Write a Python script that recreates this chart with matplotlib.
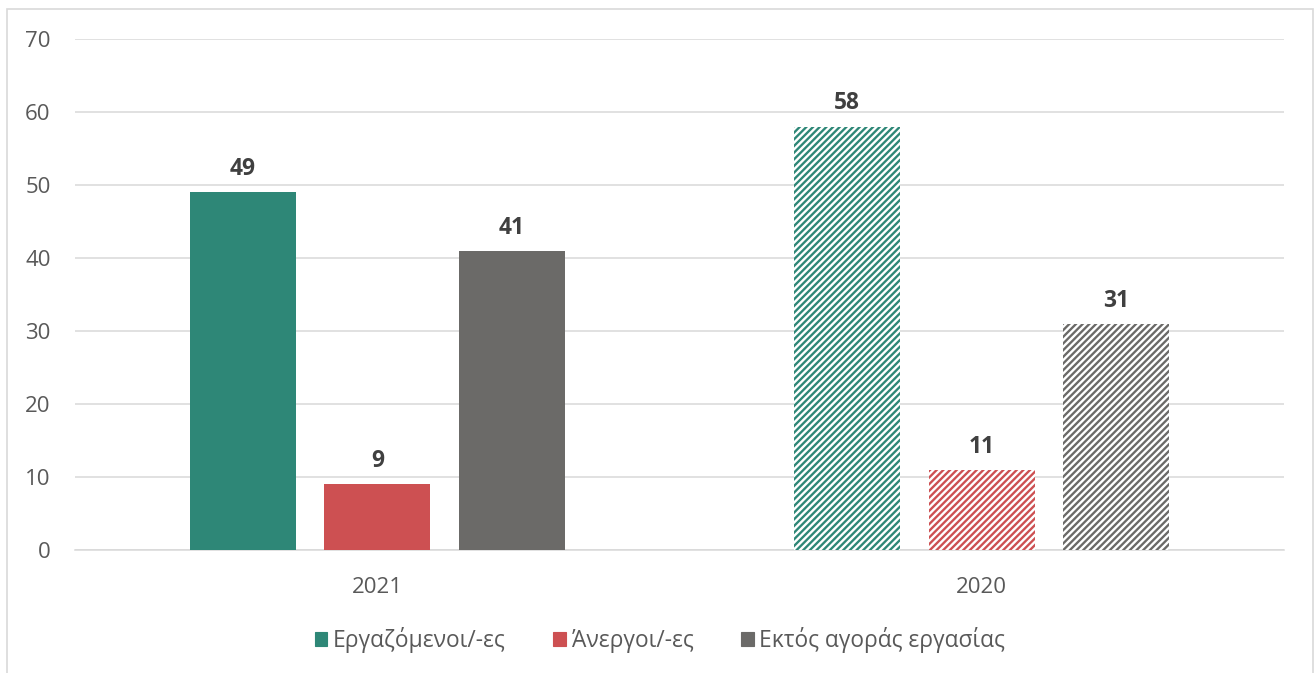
import matplotlib
matplotlib.use("Agg")
import matplotlib.pyplot as plt
from matplotlib.patches import Rectangle, Patch
import numpy as np

years = ["2021", "2020"]
series = ["Εργαζόμενοι/-ες", "Άνεργοι/-ες", "Εκτός αγοράς εργασίας"]
values = {
    "Εργαζόμενοι/-ες": [49, 58],
    "Άνεργοι/-ες": [9, 11],
    "Εκτός αγοράς εργασίας": [41, 31],
}
colors = ["#2E8777", "#CD5052", "#6B6A68"]
yticks = [0, 10, 20, 30, 40, 50, 60, 70]

DPI = 80
W, H = 1314, 673
plt.rcParams['font.family'] = ['Open Sans', 'DejaVu Sans']
plt.rcParams['hatch.linewidth'] = 2.1

fig = plt.figure(figsize=(W / DPI, H / DPI), dpi=DPI)
fig.patches.append(Rectangle((7 / W, -0.01), (1313 - 7) / W, 1.01 - 9 / H,
                             transform=fig.transFigure, fill=False,
                             edgecolor="#D9D9D9", linewidth=1.5))
ax = fig.add_axes([75 / W, (H - 550) / H, 1209 / W, 511 / H])

x = np.arange(len(years))
width = 0.175
step = 0.2225
for i, s in enumerate(series):
    off = (i - 1) * step
    vals = values[s]
    # 2021 solid
    ax.bar(x[0] + off, vals[0], width, color=colors[i], zorder=3)
    # 2020 hatched
    ax.bar(x[1] + off, vals[1], width, facecolor="white", edgecolor=colors[i],
           hatch="////", linewidth=0, zorder=3)
    for j in range(len(years)):
        ax.annotate(str(vals[j]), (x[j] + off, vals[j]), xytext=(0, 10),
                    textcoords="offset points", ha="center", va="bottom",
                    fontsize=20.5, fontweight="bold", color="#404040")

ax.set_xlim(-0.5, 1.5)
ax.set_ylim(0, 70)
ax.set_yticks(yticks)
ax.set_xticks(x)
ax.set_xticklabels(years)
ax.yaxis.grid(True, color="#D9D9D9", linewidth=1.4, zorder=0)
for sp in ["top", "right", "left"]:
    ax.spines[sp].set_visible(False)
ax.spines["bottom"].set_color("#D9D9D9")
ax.spines["bottom"].set_linewidth(1.4)
ax.tick_params(axis="both", length=0, labelsize=20, colors="#595959")
ax.tick_params(axis="y", pad=22)
ax.tick_params(axis="x", pad=24)

handles = [Patch(facecolor=c, edgecolor=c) for c in colors]
fig.legend(handles, series, loc="center", bbox_to_anchor=(660 / W, 1 - 640 / H),
           ncol=3, frameon=False, fontsize=20.5, handlelength=0.55, handleheight=0.55,
           handletextpad=0.25, columnspacing=2.1, labelcolor="#595959")

fig.savefig("out.png", dpi=DPI, facecolor="white")
